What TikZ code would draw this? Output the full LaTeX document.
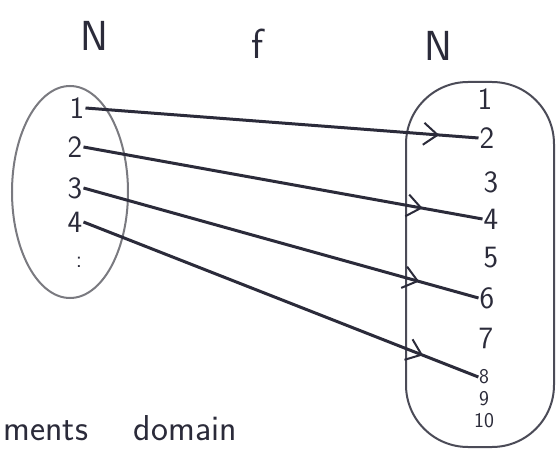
\documentclass[tikz,border=0pt]{standalone}
\usepackage{xcolor}
\usepackage{tikz}
\usetikzlibrary{arrows.meta, decorations.markings, positioning}
\definecolor{pen}{HTML}{2B2B3A}
\definecolor{penlight}{HTML}{7A7A80}

\begin{document}
\begin{tikzpicture}[x=1pt, y=-1pt,
  setlabel/.style={font=\sffamily\fontsize{42}{42}\selectfont, text=pen},
  num/.style={font=\sffamily\fontsize{31}{31}\selectfont, text=pen, inner sep=1pt},
  smallnum/.style={font=\sffamily\fontsize{21}{21}\selectfont, text=pen, inner sep=0.5pt},
  maparrow/.style={draw=pen, line width=3pt, postaction={decorate},
    decoration={markings, mark=at position #1 with {\arrow{Straight Barb[length=14pt, width=22pt, line width=2pt]}}}}]
\useasboundingbox (0,0) rectangle (558,452);
\fill[white] (0,0) rectangle (558,452);
% titles
\node[setlabel] (dom) at (94,36) {N};
\node[setlabel] (fname) at (258,44) {f};
\node[setlabel] (cod) at (438,46) {N};
% domain set
\draw[penlight, line width=2pt] (70,192) ellipse [x radius=58, y radius=106];
\node[num] (l1) at (77,108) {1};
\node[num] (l2) at (75,147) {2};
\node[num] (l3) at (75,188) {3};
\node[num] (l4) at (75,222) {4};
\node[font=\sffamily\fontsize{24}{24}\selectfont, text=pen, inner sep=0pt] (ldots) at (79,262) {:};
% codomain set
\draw[pen!85, line width=2pt, rounded corners=62pt] (406,82) rectangle (554,447);
\node[num] (r1) at (485,99) {1};
\node[num] (r2) at (487,138) {2};
\node[num] (r3) at (491,182) {3};
\node[num] (r4) at (491,219) {4};
\node[num] (r5) at (491,258) {5};
\node[num] (r6) at (487,298) {6};
\node[num] (r7) at (486,338) {7};
\node[smallnum] (r8) at (484,377) {8};
\node[smallnum] (r9) at (484,399) {9};
\node[smallnum] (r10) at (484,421) {10};
% mapping
\draw[maparrow=0.90] (l1.east) -- (r2.west);
\draw[maparrow=0.85] (l2.east) -- (r4.west);
\draw[maparrow=0.85] (l3.east) -- (r6.west);
\draw[maparrow=0.86] (l4.east) -- (r8.west);
% caption
\node[font=\sffamily\fontsize{36}{36}\selectfont, text=pen, anchor=base west] (cap) at (0,440) {ments\hspace{46pt}domain};
\end{tikzpicture}
\end{document}
